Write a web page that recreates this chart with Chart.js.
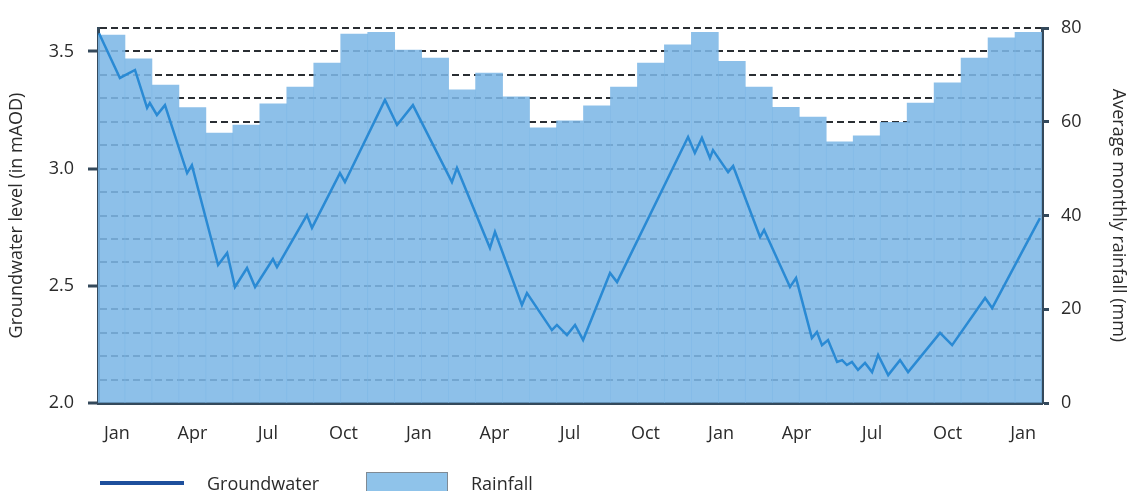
<!DOCTYPE html>
<html>
<head>
<meta charset="utf-8">
<script src="https://cdn.jsdelivr.net/npm/chart.js@4.4.1/dist/chart.umd.min.js"></script>
<style>
  body { margin: 0; background: #fff; }
  #wrap { position: relative; width: 1131px; height: 491px; overflow: hidden; font-family: "Open Sans", sans-serif; color: #2b2b2b; }
  #chart { position: absolute; left: 0; top: 0; }
  .lg { position: absolute; }
  .lg-text { font-size: 18px; line-height: 22px; top: 472px; }
</style>
</head>
<body>
<div id="wrap">
  <canvas id="chart" width="1131" height="491"></canvas>
  <div class="lg" style="left:100px; top:481px; width:84px; height:4px; background:#1d4f9c;"></div>
  <div class="lg lg-text" style="left:207px;">Groundwater</div>
  <div class="lg" style="left:366px; top:472px; width:80px; height:24px; background:#8fc3ea; border:1px solid #7f8a94;"></div>
  <div class="lg lg-text" style="left:471px;">Rainfall</div>
</div>
<script>
// average monthly rainfall (mm), one bar each
const rainfall = [
  78.5, 73.4, 67.8, 63.0, 57.6, 59.3, 63.8, 67.4, 72.5, 78.7, 79.1, 75.3,
  73.6, 66.8, 70.4, 65.3, 58.7, 60.2, 63.4, 67.4, 72.5, 76.4, 79.1, 72.9,
  67.4, 63.1, 61.0, 55.7, 57.0, 59.9, 64.0, 68.3, 73.6, 77.9, 79.1
];

// groundwater trace: months after first Jan / level in mAOD
const gwMonth = [
  -0.71, 0.12, 0.72, 1.20, 1.31, 1.59, 1.91, 2.79, 2.98, 4.02, 4.38, 4.69,
  5.17, 5.49, 6.20, 6.36, 7.55, 7.75, 8.86, 9.06, 10.65, 11.13, 11.76, 13.31,
  13.51, 14.82, 15.02, 16.09, 16.29, 17.28, 17.48, 17.88, 18.20, 18.52, 19.59, 19.87,
  22.69, 22.96, 23.24, 23.56, 23.68, 24.28, 24.48, 25.55, 25.71, 26.74, 26.98, 27.61,
  27.81, 28.01, 28.25, 28.61, 28.81, 29.00, 29.20, 29.44, 29.72, 30.00, 30.24, 30.64,
  31.11, 31.43, 32.70, 33.18, 34.49, 34.77, 36.67
];
const gwLevel = [
  3.578, 3.387, 3.421, 3.259, 3.280, 3.229, 3.271, 2.981, 3.015, 2.589, 2.640, 2.495,
  2.576, 2.495, 2.614, 2.580, 2.802, 2.747, 2.981, 2.943, 3.293, 3.186, 3.271, 2.943,
  3.003, 2.661, 2.730, 2.418, 2.469, 2.311, 2.333, 2.290, 2.333, 2.269, 2.555, 2.516,
  3.135, 3.067, 3.131, 3.045, 3.079, 2.985, 3.011, 2.708, 2.738, 2.495, 2.533, 2.277,
  2.303, 2.247, 2.269, 2.175, 2.183, 2.162, 2.175, 2.141, 2.171, 2.132, 2.205, 2.119,
  2.183, 2.132, 2.299, 2.247, 2.448, 2.405, 2.789
];

const tickMonths = [0, 3, 6, 9, 12, 15, 18, 21, 24, 27, 30, 33, 36];
const tickLabels = ['Jan', 'Apr', 'Jul', 'Oct', 'Jan', 'Apr', 'Jul', 'Oct', 'Jan', 'Apr', 'Jul', 'Oct', 'Jan'];

const textColor = '#2b2b2b';
const axisColor = '#34495b';
const tickFont = { family: '"Open Sans", sans-serif', size: 18 };

// only every 0.5 m gets a label and a tick mark
const isMajor = (v) => Math.round(v * 10) % 5 === 0;

new Chart(document.getElementById('chart'), {
    type: 'bar',
    data: {
        labels: rainfall.map((_, i) => i),
        datasets: [
            {
                type: 'line',
                label: 'Groundwater',
                data: gwMonth.map((m, i) => ({ x: m, y: gwLevel[i] })),
                xAxisID: 'x',
                yAxisID: 'y',
                borderColor: '#2a8ad4',
                borderWidth: 2.5,
                pointRadius: 0,
                tension: 0,
                order: 0
            },
            {
                type: 'bar',
                label: 'Rainfall',
                data: rainfall,
                xAxisID: 'xb',
                yAxisID: 'y2',
                backgroundColor: 'rgba(125, 183, 230, 0.88)',
                borderWidth: 0,
                grouped: false,
                barPercentage: 1,
                categoryPercentage: 1,
                order: 1
            }
        ]
    },
    options: {
        responsive: false,
        animation: false,
        layout: { padding: { top: 28, left: 0, right: 0, bottom: 0 } },
        plugins: {
            legend: { display: false },
            tooltip: { enabled: false }
        },
        scales: {
            x: {
                type: 'linear',
                position: 'bottom',
                min: -0.75,
                max: 36.75,
                bounds: 'data',
                offset: false,
                afterBuildTicks: (scale) => {
                    scale.ticks = tickMonths.map(v => ({ value: v }));
                },
                afterFit: (scale) => { scale.height = 88; },
                ticks: {
                    autoSkip: false,
                    maxRotation: 0,
                    padding: 20,
                    color: textColor,
                    font: tickFont,
                    callback: (value, index) => tickLabels[index]
                },
                grid: { display: false, drawTicks: false, offset: false },
                border: { display: true, color: axisColor, width: 3 }
            },
            xb: {
                type: 'category',
                display: false,
                offset: true,
                grid: { offset: true }
            },
            y: {
                type: 'linear',
                position: 'left',
                min: 2.0,
                max: 3.6,
                afterFit: (scale) => { scale.width = 98; },
                ticks: {
                    stepSize: 0.1,
                    autoSkip: false,
                    padding: 14,
                    color: textColor,
                    font: tickFont,
                    callback: (value) => isMajor(value) ? value.toFixed(1) : ''
                },
                grid: {
                    color: '#2a2e33',
                    lineWidth: 2,
                    drawTicks: true,
                    tickLength: 10,
                    tickWidth: 3,
                    tickColor: (c) => (c.tick && isMajor(c.tick.value)) ? axisColor : 'transparent'
                },
                border: { display: true, color: axisColor, width: 3, dash: [7, 4] },
                title: {
                    display: true,
                    text: 'Groundwater level (in mAOD)',
                    color: textColor,
                    font: { family: '"Open Sans", sans-serif', size: 18 },
                    padding: { top: 6, bottom: 0 }
                }
            },
            y2: {
                type: 'linear',
                position: 'right',
                min: 0,
                max: 80,
                afterFit: (scale) => { scale.width = 89; },
                ticks: {
                    stepSize: 20,
                    padding: 12,
                    color: textColor,
                    font: tickFont
                },
                grid: {
                    drawOnChartArea: false,
                    drawTicks: true,
                    tickLength: 7,
                    tickWidth: 3,
                    tickColor: axisColor
                },
                border: { display: true, color: axisColor, width: 3 },
                title: {
                    display: true,
                    text: 'Average monthly rainfall (mm)',
                    color: textColor,
                    font: { family: '"Open Sans", sans-serif', size: 18 },
                    padding: { top: 2, bottom: 0 }
                }
            }
        }
    }
});
</script>
</body>
</html>
